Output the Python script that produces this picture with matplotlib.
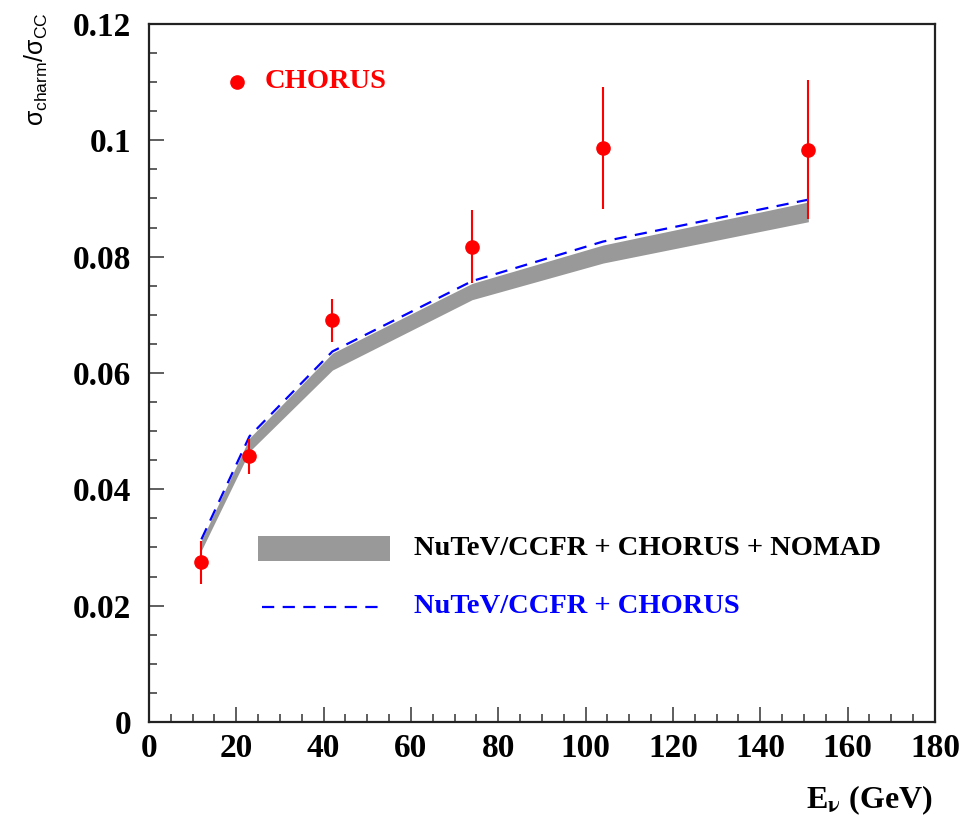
import matplotlib.pyplot as plt
import numpy as np
from matplotlib.ticker import MultipleLocator, FixedFormatter, FixedLocator

plt.rcParams['font.family'] = ['Liberation Serif', 'DejaVu Serif']
plt.rcParams['font.weight'] = 'bold'
plt.rcParams['mathtext.fontset'] = 'stix'
plt.rcParams['mathtext.rm'] = 'Liberation Sans:weight=normal'
plt.rcParams['mathtext.it'] = 'Liberation Sans:weight=normal'
plt.rcParams['mathtext.bf'] = 'Liberation Sans:weight=bold'

# CHORUS data points
chorus_e = [12, 23, 42, 74, 104, 151]
chorus_r = [0.0275, 0.0457, 0.0691, 0.0817, 0.0987, 0.0984]
chorus_err = [0.0037, 0.0030, 0.0037, 0.0063, 0.0105, 0.0120]

# fit band NuTeV/CCFR + CHORUS + NOMAD
band_e = [12, 23, 42, 74, 104, 151]
band_lo = [0.0295, 0.0465, 0.0605, 0.0726, 0.0789, 0.0860]
band_hi = [0.0312, 0.0488, 0.0634, 0.0754, 0.0820, 0.0894]

# fit NuTeV/CCFR + CHORUS
fit_e = [12, 23, 42, 74, 104, 151]
fit_r = [0.0314, 0.0491, 0.0637, 0.0758, 0.0826, 0.0898]

fig = plt.figure(figsize=(9.65, 8.21), dpi=100)
ax = fig.add_axes([0.1544, 0.1206, 0.8145, 0.8502])

ax.fill_between(band_e, band_lo, band_hi, color='#999999', lw=0)
ax.plot(fit_e, fit_r, color='#0000ff', lw=1.6, dashes=(5.5, 3.8))
ax.errorbar(chorus_e, chorus_r, yerr=chorus_err, fmt='o', color='#ff0000',
            ms=9.5, elinewidth=1.5, capsize=0)

ax.set_xlim(0, 180)
ax.set_ylim(0, 0.12)
ax.xaxis.set_major_locator(MultipleLocator(20))
ax.xaxis.set_minor_locator(MultipleLocator(5))
ax.yaxis.set_minor_locator(MultipleLocator(0.005))
yt = [0, 0.02, 0.04, 0.06, 0.08, 0.1, 0.12]
ax.yaxis.set_major_locator(FixedLocator(yt))
ax.yaxis.set_major_formatter(FixedFormatter(['0', '0.02', '0.04', '0.06', '0.08', '0.1', '0.12']))

ax.tick_params(which='both', direction='in', width=1.1, color='#333333')
ax.tick_params(which='major', length=11)
ax.tick_params(which='minor', length=5.5)
ax.tick_params(axis='y', which='major', pad=13, labelsize=24)
ax.tick_params(axis='x', which='major', pad=8, labelsize=24)
for lab in ax.get_xticklabels() + ax.get_yticklabels():
    lab.set_fontweight('bold')
for sp in ax.spines.values():
    sp.set_linewidth(1.6)
    sp.set_color('#222222')

# legend drawn by hand like the original
ax.plot([0.112], [0.917], 'o', color='#ff0000', ms=9.5, transform=ax.transAxes)
ax.text(0.1476, 0.917, 'CHORUS', color='#ff0000', fontsize=20.5, fontweight='bold',
        va='center', ha='left', transform=ax.transAxes)
ax.add_patch(plt.Rectangle((0.1387, 0.2307), 0.168, 0.0358, color='#999999', lw=0,
                           transform=ax.transAxes))
ax.text(0.337, 0.2479, 'NuTeV/CCFR + CHORUS + NOMAD', color='black', fontsize=20.5,
        fontweight='bold', va='center', ha='left', transform=ax.transAxes)
ax.plot([0.1438, 0.3015], [0.1648, 0.1648], color='#0000ff', lw=1.6, dashes=(5.5, 3.8),
        transform=ax.transAxes)
ax.text(0.337, 0.1648, 'NuTeV/CCFR + CHORUS', color='#0000ff', fontsize=20.5,
        fontweight='bold', va='center', ha='left', transform=ax.transAxes)

fig.text(0.038, 0.985, r'$\sigma_{\mathrm{charm}}/\sigma_{\mathrm{CC}}$', rotation=90,
         ha='center', va='top', fontsize=18, fontweight='normal',
         math_fontfamily='custom')
fig.text(0.967, 0.025, r'E$_{\mathrm{\nu}}$ (GeV)', ha='right', va='center',
         fontsize=23, fontweight='bold', math_fontfamily='stix')

plt.savefig('out.png', dpi=100)
